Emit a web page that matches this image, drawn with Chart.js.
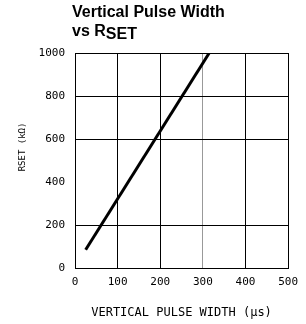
<!DOCTYPE html>
<html>
<head>
<meta charset="utf-8">
<script src="https://cdn.jsdelivr.net/npm/chart.js@4/dist/chart.umd.min.js"></script>
<style>
  html, body { margin: 0; padding: 0; background: #fff; }
  #wrap { position: relative; width: 306px; height: 324px; }
  #titulo {
    position: absolute; left: 72px; top: 2px;
    font: bold 16px "Liberation Sans", Arial, sans-serif; line-height: 19px; color: #000;
  }
  #titulo sub { font-size: 16px; vertical-align: -3px; line-height: 0; }
</style>
</head>
<body>
<div id="wrap">
  <canvas id="grafico" width="306" height="324"></canvas>
  <div id="titulo">Vertical Pulse Width<br>vs R<sub>SET</sub></div>
</div>
<script>
// pulse width (us) vs RSET (kOhm)
const larguraPulso = [25, 315];
const rset = [85, 1000];
const ticksX = [0, 100, 200, 300, 400, 500];
const ticksY = [0, 200, 400, 600, 800, 1000];

const pontos = larguraPulso.map((x, i) => ({ x: x, y: rset[i] }));
const fonteMono = "'DejaVu Sans Mono', monospace";

const ctx = document.getElementById("grafico");
new Chart(ctx, {
  type: "scatter",
  data: {
    datasets: [{
      data: pontos,
      showLine: true,
      borderColor: "#000",
      borderWidth: 3,
      pointRadius: 0,
      fill: false
    }]
  },
  options: {
    responsive: false,
    animation: false,
    layout: { padding: { top: 53, right: 16, left: 0, bottom: 0 } },
    plugins: { legend: { display: false }, tooltip: { enabled: false } },
    scales: {
      x: {
        type: "linear",
        min: 0, max: 500,
        afterBuildTicks: (s) => { s.ticks = ticksX.map(v => ({ value: v })); },
        afterFit: (s) => { s.height = 56; },
        grid: {
          drawTicks: false,
          lineWidth: 1,
          color: (c) => c.tick && c.tick.value === 300 ? "#999" : "#000"
        },
        border: { color: "#000", width: 1 },
        ticks: {
          color: "#000", padding: 8, maxRotation: 0,
          font: { family: fonteMono, size: 11 },
          callback: (v) => String(v)
        },
        title: {
          display: true,
          text: "VERTICAL PULSE WIDTH (\u03bcs)",
          color: "#000",
          font: { family: fonteMono, size: 12 },
          padding: { top: 0, bottom: 4 }
        }
      },
      y: {
        type: "linear",
        min: 0, max: 1000,
        afterBuildTicks: (s) => { s.ticks = ticksY.map(v => ({ value: v })); },
        afterFit: (s) => { s.width = 75; },
        grid: {
          drawTicks: false,
          lineWidth: 1,
          color: (c) => c.tick && c.tick.value === 400 ? "rgba(0,0,0,0)" : "#000"
        },
        border: { color: "#000", width: 1 },
        ticks: {
          color: "#000", padding: 10,
          font: { family: fonteMono, size: 11 },
          callback: (v) => String(v)
        },
        title: {
          display: true,
          text: "     RSET (k\u03a9)",
          color: "#000",
          font: { family: fonteMono, size: 9 },
          padding: { top: 17, bottom: 0 }
        }
      }
    }
  }
});
</script>
</body>
</html>
